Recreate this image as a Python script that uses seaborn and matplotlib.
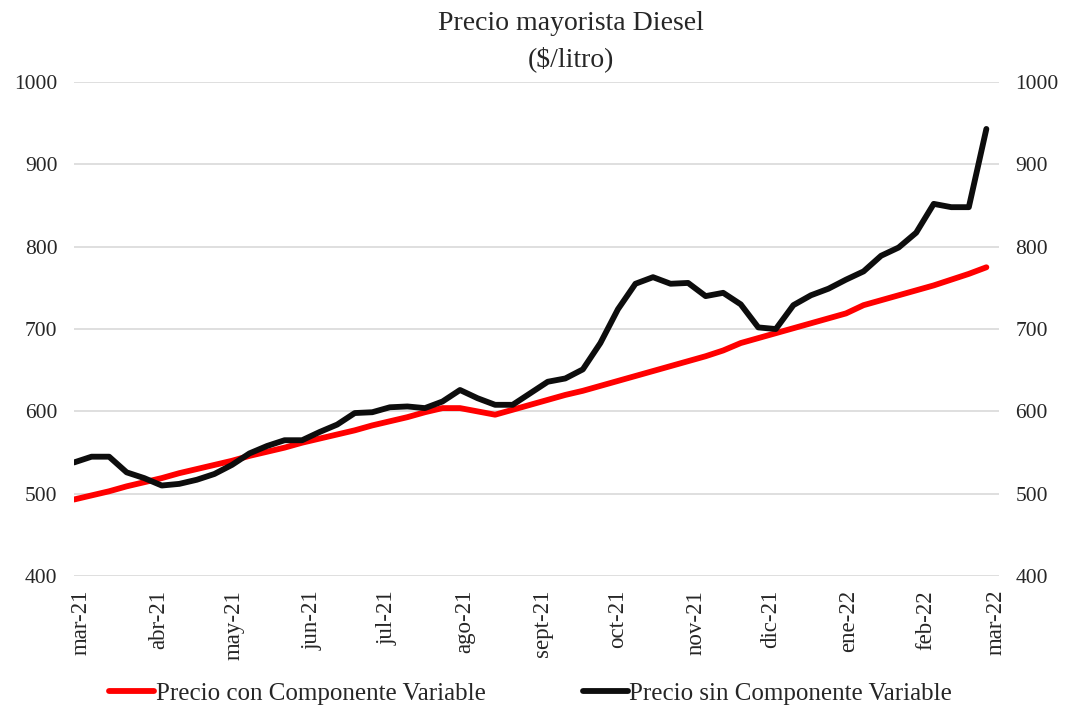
import matplotlib
matplotlib.use("Agg")
from matplotlib import pyplot as plt
import seaborn as sns
import pandas as pd

# weekly wholesale diesel price ($/litro)
semanas = pd.date_range("2021-02-26", periods=53, freq="7D")
precio_con = [493, 498, 503, 509, 514, 519, 525, 530, 535, 540,
              546, 551, 556, 562, 567, 572, 577, 583, 588, 593,
              599, 604, 604, 600, 596, 602, 608, 614, 620, 625,
              631, 637, 643, 649, 655, 661, 667, 674, 683, 689,
              695, 701, 707, 713, 719, 729, 735, 741, 747, 753,
              760, 767, 775]
precio_sin = [538, 545, 545, 526, 519, 510, 512, 517, 524, 535,
              549, 558, 565, 565, 575, 584, 598, 599, 605, 606,
              604, 612, 626, 616, 608, 608, 622, 636, 640, 651,
              683, 724, 755, 763, 755, 756, 740, 744, 730, 702,
              700, 729, 741, 749, 760, 770, 789, 799, 817, 852,
              848, 848, 943]
meses = pd.date_range("2021-03-01", periods=13, freq="MS")
etiquetas_meses = ["mar-21", "abr-21", "may-21", "jun-21", "jul-21", "ago-21",
                   "sept-21", "oct-21", "nov-21", "dic-21", "ene-22", "feb-22", "mar-22"]
y_ticks = [400, 500, 600, 700, 800, 900, 1000]

df = pd.DataFrame({"fecha": semanas,
                   "Precio con Componente Variable": precio_con,
                   "Precio sin Componente Variable": precio_sin})
df_long = df.melt(id_vars="fecha", var_name="serie", value_name="precio")

sns.set_style("white")
plt.rcParams["font.family"] = ["Liberation Serif", "DejaVu Serif"]

fig = plt.figure(figsize=(10.68, 7.13), dpi=100)
ax = fig.add_axes([0.0693, 0.192, 0.866, 0.693])

sns.lineplot(data=df_long, x="fecha", y="precio", hue="serie",
             palette=["#ff0000", "#0d0d0d"], linewidth=4.2, ax=ax,
             legend=False)

ax.set_ylim(400, 1000)
ax.set_yticks(y_ticks)
ax.set_xlim(pd.Timestamp("2021-02-26"), pd.Timestamp("2022-03-02"))
ax.set_xticks(meses)
ax.set_xticklabels(etiquetas_meses, rotation=90, fontsize=16.5, color="#262626")
ax.tick_params(axis="y", labelsize=15.5, colors="#262626", length=0, pad=12)
ax.tick_params(axis="x", length=0, pad=10)
ax.grid(axis="y", color="#d9d9d9", linewidth=1.2)
ax.set_xlabel("")
ax.set_ylabel("")
for s in ax.spines.values():
    s.set_visible(False)

ax2 = ax.twinx()
ax2.set_ylim(400, 1000)
ax2.set_yticks(y_ticks)
ax2.tick_params(axis="y", labelsize=15.5, colors="#262626", length=0, pad=12)
for s in ax2.spines.values():
    s.set_visible(False)

fig.text(0.535, 0.985, "Precio mayorista Diesel\n($/litro)", ha="center", va="top",
         fontsize=20, linespacing=1.55)

handles = [plt.Line2D([], [], color="#ff0000", linewidth=4.2),
           plt.Line2D([], [], color="#0d0d0d", linewidth=4.2)]
fig.legend(handles, ["Precio con Componente Variable", "Precio sin Componente Variable"],
           loc="center", bbox_to_anchor=(0.497, 0.027), ncol=2, frameon=False,
           fontsize=18, handlelength=1.8, handletextpad=0.05, columnspacing=3.9)

fig.savefig("out.png", dpi=100)
